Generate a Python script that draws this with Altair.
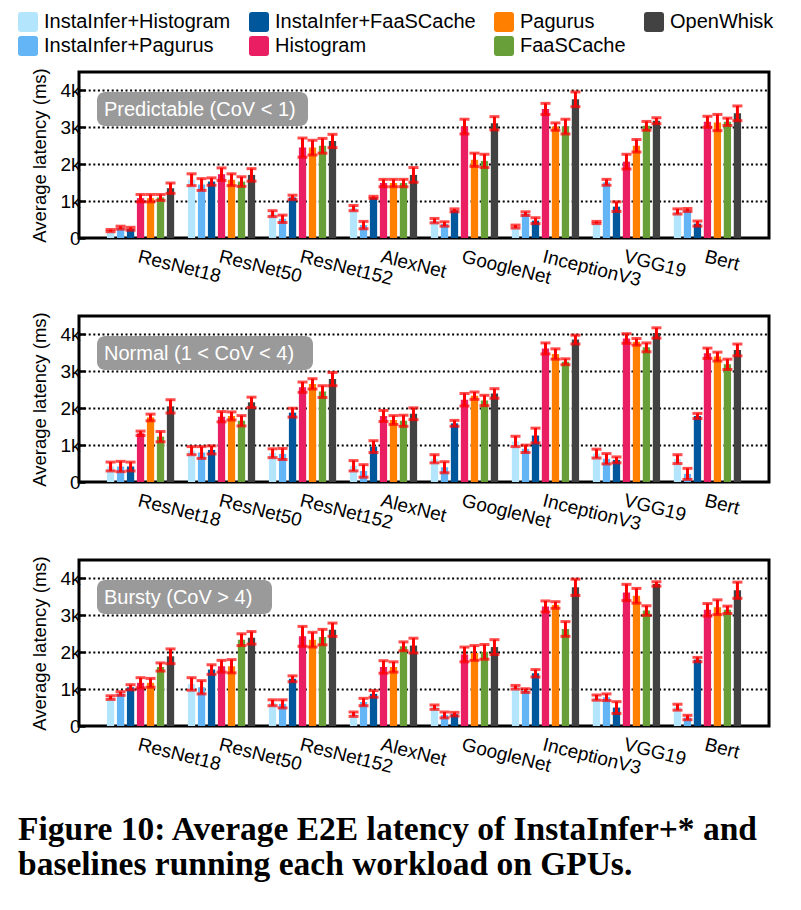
import altair as alt
import pandas as pd

models = ["ResNet18", "ResNet50", "ResNet152", "AlexNet", "GoogleNet", "InceptionV3", "VGG19", "Bert"]
series = ["InstaInfer+Histogram", "InstaInfer+Pagurus", "InstaInfer+FaaSCache",
          "Histogram", "Pagurus", "FaaSCache", "OpenWhisk"]
legend_order = ["InstaInfer+Histogram", "InstaInfer+FaaSCache", "Pagurus", "OpenWhisk",
                "InstaInfer+Pagurus", "Histogram", "FaaSCache"]
colors = {"InstaInfer+Histogram": "#b3e5fc", "InstaInfer+Pagurus": "#64b5f6",
          "InstaInfer+FaaSCache": "#01579b", "Histogram": "#e91e63",
          "Pagurus": "#ff8000", "FaaSCache": "#689f38", "OpenWhisk": "#424242"}

badges = ["Predictable (CoV < 1)", "Normal (1 < CoV < 4)", "Bursty (CoV > 4)"]

# average latency (ms), one row per model, columns in `series` order
predictable = [
    [200, 280, 250, 1080, 1080, 1100, 1350],
    [1580, 1450, 1530, 1730, 1580, 1530, 1710],
    [660, 520, 1100, 2450, 2450, 2500, 2630],
    [810, 350, 1100, 1490, 1490, 1490, 1710],
    [470, 380, 750, 3020, 2120, 2090, 3110],
    [310, 660, 470, 3500, 3020, 3020, 3760],
    [420, 1510, 850, 2070, 2500, 3040, 3180],
    [720, 760, 390, 3150, 3130, 3150, 3380],
]
normal = [
    [420, 420, 420, 1320, 1750, 1230, 2050],
    [850, 800, 870, 1770, 1790, 1660, 2160],
    [780, 760, 1880, 2570, 2660, 2450, 2790],
    [440, 300, 960, 1790, 1680, 1660, 1850],
    [630, 400, 1590, 2230, 2340, 2210, 2400],
    [1100, 900, 1260, 3620, 3470, 3260, 3860],
    [770, 630, 600, 3890, 3800, 3650, 4040],
    [620, 220, 1790, 3490, 3400, 3190, 3580],
]
bursty = [
    [770, 880, 1050, 1170, 1170, 1600, 1890],
    [1140, 1050, 1530, 1620, 1620, 2340, 2390],
    [630, 600, 1280, 2430, 2340, 2410, 2610],
    [320, 650, 870, 1600, 1600, 2160, 2180],
    [510, 300, 320, 1940, 1980, 2010, 2140],
    [1050, 960, 1430, 3240, 3280, 2630, 3760],
    [770, 780, 500, 3620, 3530, 3130, 3850],
    [510, 230, 1800, 3150, 3220, 3150, 3680],
]

# error half-width (ms)
predictable_err = [
    [30, 40, 40, 100, 100, 80, 140],
    [160, 160, 100, 170, 160, 130, 170],
    [80, 100, 60, 260, 200, 200, 180],
    [70, 100, 30, 100, 100, 100, 200],
    [60, 60, 40, 200, 180, 180, 180],
    [40, 50, 80, 150, 100, 200, 200],
    [30, 80, 130, 200, 170, 120, 80],
    [70, 40, 70, 150, 220, 100, 200],
]
normal_err = [
    [120, 140, 120, 60, 90, 140, 180],
    [110, 160, 110, 140, 110, 140, 140],
    [120, 150, 120, 140, 140, 160, 180],
    [140, 170, 160, 150, 120, 150, 160],
    [110, 150, 80, 170, 100, 140, 130],
    [140, 100, 200, 150, 140, 80, 120],
    [120, 140, 80, 130, 90, 120, 140],
    [120, 150, 70, 140, 120, 140, 160],
]
bursty_err = [
    [50, 50, 70, 140, 120, 110, 200],
    [170, 180, 130, 160, 180, 160, 170],
    [80, 110, 80, 270, 200, 210, 180],
    [60, 100, 90, 170, 140, 120, 200],
    [60, 80, 50, 200, 200, 200, 200],
    [50, 50, 100, 150, 90, 200, 220],
    [70, 90, 160, 220, 200, 130, 60],
    [80, 60, 60, 170, 200, 100, 220],
]

panels = [(predictable, predictable_err), (normal, normal_err), (bursty, bursty_err)]
badge_widths = [211, 216, 175]

FONT = "Liberation Sans"
W, H = 690, 166
ERR = "#ff0000"


def make_panel(vals, errs, badge, bw):
    rows = []
    for mi, m in enumerate(models):
        for si, s in enumerate(series):
            v = vals[mi][si]
            e = errs[mi][si]
            rows.append({"model": m, "series": s, "value": v, "lo": v - e, "hi": v + e})
    df = pd.DataFrame(rows)

    x = alt.X("model:N", sort=models, title=None,
              scale=alt.Scale(paddingInner=0.17, paddingOuter=0.345),
              axis=alt.Axis(labelAngle=14, labelAlign="left", labelBaseline="top",
                            labelPadding=9, ticks=False, domain=False,
                            labelFontSize=19, labelFont=FONT, labelColor="black"))
    xo = alt.XOffset("series:N", sort=series, scale=alt.Scale(paddingInner=0.27))
    y = alt.Y("value:Q", title="Average latency (ms)",
              scale=alt.Scale(domain=[0, 4500], nice=False),
              axis=alt.Axis(values=[0, 500, 1000, 1500, 2000, 2500, 3000, 3500, 4000],
                            labelExpr="datum.value % 1000 != 0 ? '' : (datum.value == 0 ? '0' : (datum.value/1000) + 'k')",
                            gridOpacity={"condition": {"test": "datum.value % 1000 == 0 && datum.value > 0", "value": 1}, "value": 0},
                            grid=True, gridColor="black", gridWidth=2, gridDash=[2, 2.6],
                            tickSize=alt.ExprRef("-6"), tickColor="black", tickWidth=2.5,
                            domain=False, labelPadding=5,
                            labelFontSize=19, labelFont=FONT, labelColor="black",
                            titleFontSize=18.5, titleFont=FONT, titleFontWeight="normal",
                            titleColor="black", titlePadding=10))

    base = alt.Chart(df)
    bars = base.mark_bar().encode(
        x=x, xOffset=xo, y=y,
        color=alt.Color("series:N", scale=alt.Scale(domain=legend_order,
                                                     range=[colors[s] for s in legend_order]),
                        legend=alt.Legend(title=None)),
    )
    xe = alt.X("model:N", sort=models)
    xoe = alt.XOffset("series:N", sort=series)
    rules = base.mark_rule(color=ERR, strokeWidth=3).encode(x=xe, xOffset=xoe, y="lo:Q", y2="hi:Q")
    cap_lo = base.mark_tick(color=ERR, thickness=3, size=10).encode(x=xe, xOffset=xoe, y="lo:Q")
    cap_hi = base.mark_tick(color=ERR, thickness=3, size=10).encode(x=xe, xOffset=xoe, y="hi:Q")

    bdf = pd.DataFrame({"label": [badge]})
    bchart = alt.Chart(bdf)
    box = bchart.mark_rect(color="#9a9a9a", cornerRadius=8).encode(
        x=alt.value(18), x2=alt.value(18 + bw), y=alt.value(20), y2=alt.value(54))
    txt = bchart.mark_text(color="white", fontSize=20, font=FONT, align="left",
                           baseline="middle").encode(
        x=alt.value(25), y=alt.value(37.5), text="label:N")

    return alt.layer(bars, rules, cap_lo, cap_hi, box, txt).properties(width=W, height=H)


charts = [make_panel(v, e, b, bw) for (v, e), b, bw in zip(panels, badges, badge_widths)]

rounded = "M -0.7 -1 H 0.7 Q 1 -1 1 -0.7 V 0.7 Q 1 1 0.7 1 H -0.7 Q -1 1 -1 0.7 V -0.7 Q -1 -1 -0.7 -1 Z"

chart = alt.vconcat(*charts, spacing=18).resolve_scale(color="shared").properties(
    title=alt.TitleParams(
        text=["Figure 10: Average E2E latency of InstaInfer+* and",
              "baselines running each workload on GPUs."],
        orient="bottom", anchor="start", frame="bounds",
        font="Liberation Serif", fontSize=33.5, fontWeight="bold", color="black",
        lineHeight=35, offset=35, dx=0),
    padding={"left": 10, "top": 4, "right": 2, "bottom": 2},
).configure_view(stroke="black", strokeWidth=3).configure_legend(
    orient="none", legendX=-61, legendY=-60, direction="horizontal",
    columns=4, symbolType=rounded, symbolSize=400, symbolStrokeWidth=0,
    labelFontSize=20, labelFont=FONT, labelColor="black", labelLimit=400, rowPadding=4,
    columnPadding=18, labelOffset=6
)

chart.save("out.html", embed_options={"renderer": "svg", "actions": False})
